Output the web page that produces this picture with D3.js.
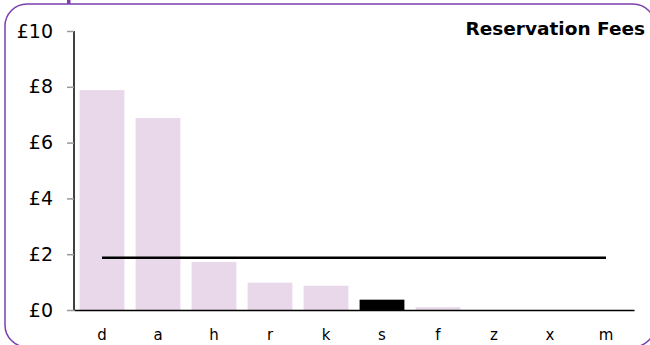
<!DOCTYPE html>
<html><head><meta charset="utf-8">
<script src="https://cdn.jsdelivr.net/npm/d3@7"></script>
<style>body{margin:0;background:#fff;}svg{display:block;font-family:"DejaVu Sans",Verdana,sans-serif;}</style>
</head><body>
<svg id="c" width="650" height="345"></svg>
<script>
const categories = ["d","a","h","r","k","s","f","z","x","m"];
const fees = [7.88, 6.88, 1.72, 0.98, 0.87, 0.37, 0.1, 0, 0, 0];
const highlight = ["s"];
const averageFee = [1.87];
const yTicks = [0, 2, 4, 6, 8, 10];
const title = "Reservation Fees";

const svg = d3.select("#c");
svg.append("rect").attr("x",5).attr("y",4).attr("width",650).attr("height",343).attr("rx",22)
  .attr("fill","none").attr("stroke","#7b3fb0").attr("stroke-width",1.5);
svg.append("rect").attr("x",67).attr("y",0).attr("width",3.5).attr("height",4).attr("fill","#7b3fb0");

const x = d3.scaleBand().domain(categories).range([74,634]).paddingInner(0.2).paddingOuter(0.1);
const y = d3.scaleLinear().domain([0,10]).range([310,31]);

svg.selectAll("rect.bar").data(categories).enter().append("rect").attr("class","bar")
  .attr("x",d=>x(d)).attr("width",x.bandwidth())
  .attr("y",(d,i)=>y(fees[i])).attr("height",(d,i)=>y(0)-y(fees[i]))
  .attr("fill",d=>highlight.includes(d)?"#000":"#e9d8ea");

const ya = svg.append("g").attr("transform","translate(74,0)")
  .call(d3.axisLeft(y).tickValues(yTicks).tickFormat(d=>"£"+d).tickSize(7).tickPadding(14));
ya.attr("font-size",null).attr("font-family",null);
ya.select(".domain").attr("stroke","#000").attr("stroke-width",1.5).attr("d","M0,31V310");
ya.selectAll(".tick line").attr("stroke","#999").attr("stroke-width",1.5);
ya.selectAll("text").style("font-size","19px").attr("fill","#000");

const xa = svg.append("g").attr("transform","translate(0,310)")
  .call(d3.axisBottom(x).tickSize(0).tickPadding(19));
xa.attr("font-size",null).attr("font-family",null);
xa.select(".domain").attr("stroke","#000").attr("stroke-width",1.5);
xa.selectAll("text").style("font-size","15px").attr("fill","#000");

const line = d3.line().x(d=>d[0]).y(d=>d[1]);
svg.append("path").datum([[x(categories[0])+x.bandwidth()/2, y(averageFee[0])],[x(categories[categories.length-1])+x.bandwidth()/2, y(averageFee[0])]])
  .attr("d",line).attr("stroke","#000").attr("stroke-width",2.5).attr("fill","none");

svg.append("text").attr("x",645).attr("y",35).attr("text-anchor","end")
  .style("font-size","18.5px").attr("font-weight","bold").text(title);
</script>
</body></html>
